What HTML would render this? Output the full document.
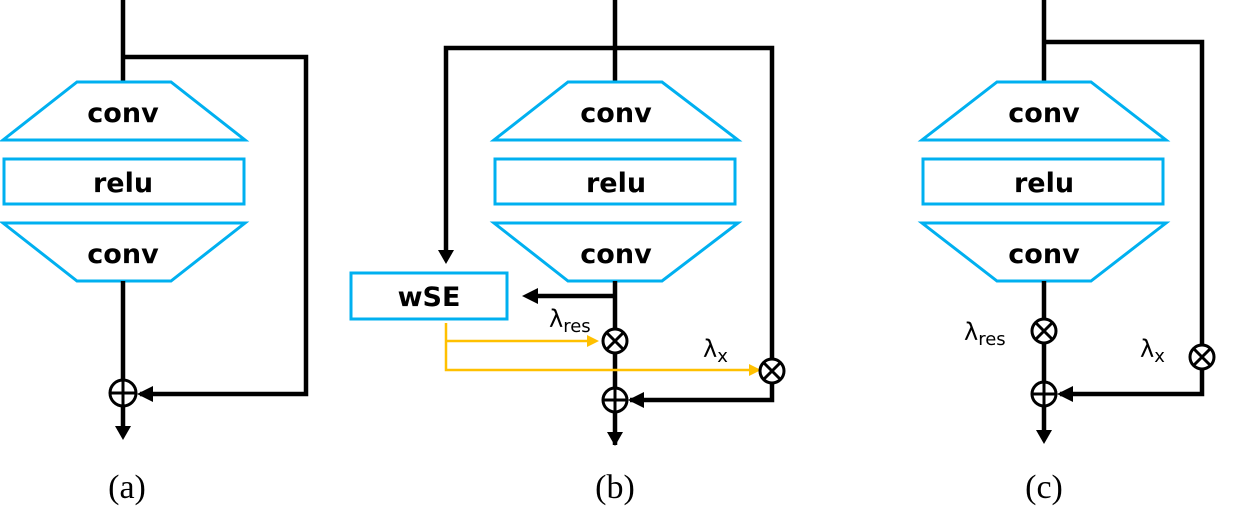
<!DOCTYPE html>
<html><head><meta charset="utf-8"><style>
html,body{margin:0;padding:0;background:#fff;}
svg{display:block;}
.blk{fill:none;stroke:#00b0f0;stroke-width:3;}
.ln{fill:none;stroke:#000;stroke-width:4.5;}
.yl{fill:none;stroke:#ffc000;stroke-width:2.5;}
.op{fill:#fff;stroke:#000;stroke-width:3;}
.x{stroke:#000;stroke-width:3;}
.t{font-family:"DejaVu Sans","Liberation Sans",sans-serif;font-weight:bold;font-size:27px;text-anchor:middle;}
.lam{font-family:"DejaVu Sans","Liberation Sans",sans-serif;font-size:24px;}
.cap{font-family:"Liberation Serif",serif;font-size:34px;text-anchor:middle;}
</style></head><body>
<svg width="1236" height="527" viewBox="0 0 1236 527">

<!-- (a) -->
<g>
<path class="ln" d="M123,0V82 M123,57H306V394H140"/>
<path d="M137,394 l16,-8 v16z" fill="#000"/>
<polygon class="blk" points="77,82 171,82 245,140 3,140"/>
<text class="t" x="123" y="122">conv</text>
<rect class="blk" x="4" y="159" width="240" height="45"/>
<text class="t" x="123" y="192">relu</text>
<polygon class="blk" points="3,223 245,223 171,281 77,281"/>
<text class="t" x="123" y="263">conv</text>
<path class="ln" d="M123,281V393 M123,405V428" />
<path d="M115,426 h16 l-8,14z" fill="#000"/>
<circle class="op" cx="123" cy="393" r="13"/>
<path class="x" d="M110,393h26M123,380v26"/>
<text class="cap" x="127" y="498">(a)</text>
</g>

<!-- (b) -->
<g>
<path class="ln" d="M615,0V82 M615,48H446V252 M615,48H772V358" />
<path d="M438,250 h16 l-8,14z" fill="#000"/>
<polygon class="blk" points="568,82 662,82 738,140 494,140"/>
<text class="t" x="616" y="122">conv</text>
<rect class="blk" x="495" y="159" width="240" height="45"/>
<text class="t" x="616" y="192">relu</text>
<polygon class="blk" points="494,223 738,223 662,281 568,281"/>
<text class="t" x="616" y="263">conv</text>
<rect class="blk" x="351" y="273" width="156" height="46"/>
<text class="t" x="429" y="306">wSE</text>
<path class="ln" d="M615,281V445 M615,296H535" />
<path d="M522,296 l16,-8 v16z" fill="#000"/>
<path class="yl" d="M446,323V370H750 M446,341H595" />
<path d="M599,341 l-12,-6 v12z M761,370 l-12,-6 v12z" fill="#ffc000"/>
<path class="ln" d="M772,370V400H630"/>
<path d="M628,400 l16,-8 v16z" fill="#000"/>
<path d="M607,432 h16 l-8,14z" fill="#000"/>
<circle class="op" cx="615" cy="341" r="12"/>
<path class="x" d="M607,333l16,16M623,333l-16,16"/>
<circle class="op" cx="772" cy="371" r="12"/>
<path class="x" d="M764,363l16,16M780,363l-16,16"/>
<circle class="op" cx="615" cy="400" r="12"/>
<path class="x" d="M603,400h24M615,388v24"/>
<text class="lam" x="549" y="327">λ<tspan font-size="18" dy="5">res</tspan></text>
<text class="lam" x="703" y="357">λ<tspan font-size="18" dy="5">x</tspan></text>
<text class="cap" x="615" y="498">(b)</text>
</g>

<!-- (c) -->
<g>
<path class="ln" d="M1044,0V82 M1044,42H1202V345" />
<polygon class="blk" points="997,82 1091,82 1166,140 922,140"/>
<text class="t" x="1044" y="122">conv</text>
<rect class="blk" x="923" y="159" width="240" height="45"/>
<text class="t" x="1044" y="192">relu</text>
<polygon class="blk" points="922,223 1166,223 1091,281 997,281"/>
<text class="t" x="1044" y="263">conv</text>
<path class="ln" d="M1044,281V432 M1202,357V394H1060"/>
<path d="M1057,394 l16,-8 v16z" fill="#000"/>
<path d="M1036,430 h16 l-8,14z" fill="#000"/>
<circle class="op" cx="1044" cy="331" r="12"/>
<path class="x" d="M1036,323l16,16M1052,323l-16,16"/>
<circle class="op" cx="1202" cy="357" r="12"/>
<path class="x" d="M1194,349l16,16M1210,349l-16,16"/>
<circle class="op" cx="1044" cy="394" r="12"/>
<path class="x" d="M1032,394h24M1044,382v24"/>
<text class="lam" x="964" y="340">λ<tspan font-size="18" dy="5">res</tspan></text>
<text class="lam" x="1140" y="357">λ<tspan font-size="18" dy="5">x</tspan></text>
<text class="cap" x="1044" y="498">(c)</text>
</g>
</svg>
</body></html>
